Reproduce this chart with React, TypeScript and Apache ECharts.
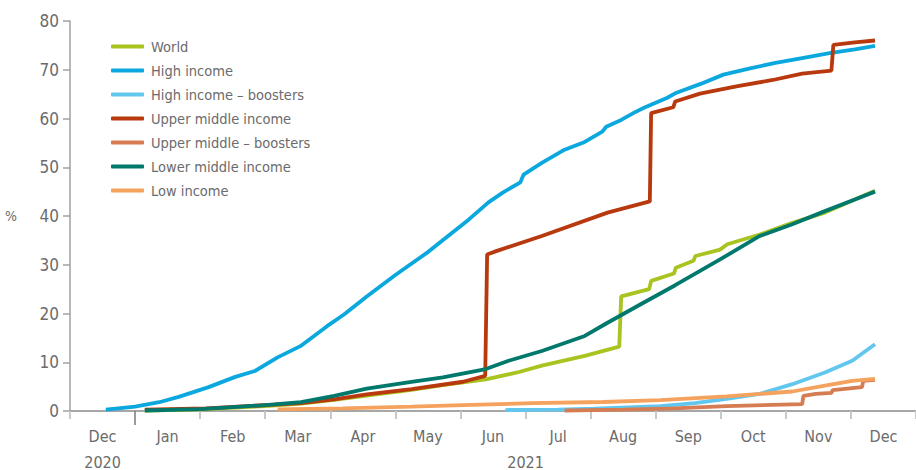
import React, { useEffect, useRef } from "react";
import * as echarts from "echarts";

// x = months since 1 Dec 2020 (each month drawn equally wide), y = percent
const monthLabels = ["Dec", "Jan", "Feb", "Mar", "Apr", "May", "Jun", "Jul", "Aug", "Sep", "Oct", "Nov", "Dec"];
const yearLabels = [
  { at: 0.5, text: "2020" },
  { at: 7, text: "2021" },
];
const seriesNames = [
  "World",
  "High income",
  "High income \u2013 boosters",
  "Upper middle income",
  "Upper middle \u2013 boosters",
  "Lower middle income",
  "Low income",
];
const seriesColors = ["#A9C420", "#0AA8DE", "#62C7EE", "#B8390D", "#D67C52", "#00796C", "#F4A25D"];

const world = [
  [1.15, 0.1], [2.0, 0.35], [3.0, 1.0], [3.55, 1.5], [4.06, 2.3], [4.71, 3.4], [5.22, 4.3], [5.73, 5.3],
  [6.39, 6.5], [6.9, 8.0], [7.25, 9.3], [7.91, 11.3], [8.44, 13.2], [8.47, 23.5], [8.9, 25.0], [8.93, 26.7],
  [9.28, 28.2], [9.31, 29.4], [9.58, 30.8], [9.61, 31.8], [9.99, 33.1], [10.1, 34.2], [10.6, 36.2],
  [11.1, 38.6], [11.6, 40.7], [12.06, 43.4], [12.37, 45.2],
];
const highIncome = [
  [0.55, 0.3], [1.0, 0.9], [1.37, 1.8], [1.67, 2.9], [2.13, 4.9], [2.54, 7.0], [2.84, 8.2], [3.19, 11.0],
  [3.54, 13.3], [3.95, 17.4], [4.21, 19.8], [4.56, 23.5], [5.0, 27.9], [5.5, 32.6], [5.8, 35.8], [6.13, 39.3],
  [6.43, 42.8], [6.65, 44.8], [6.92, 46.9], [6.97, 48.5], [7.25, 50.9], [7.6, 53.6], [7.91, 55.2],
  [8.18, 57.3], [8.24, 58.3], [8.47, 59.7], [8.67, 61.2], [8.82, 62.2], [9.17, 64.2], [9.32, 65.3],
  [9.69, 67.1], [10.04, 69.0], [10.45, 70.3], [10.84, 71.4], [11.25, 72.4], [11.67, 73.4], [12.06, 74.2],
  [12.37, 74.9],
];
const highBoosters = [
  [6.69, 0.2], [7.5, 0.3], [8.06, 0.5], [9.07, 1.0], [9.6, 1.6], [10.09, 2.5], [10.6, 3.5], [11.1, 5.5],
  [11.6, 7.9], [12.02, 10.3], [12.37, 13.7],
];
const upperMiddle = [
  [1.15, 0.3], [2.09, 0.55], [3.14, 1.3], [3.55, 1.6], [4.06, 2.4], [4.56, 3.4], [5.25, 4.5], [6.04, 6.0],
  [6.38, 7.2], [6.41, 32.1], [6.55, 32.8], [7.25, 35.9], [8.26, 40.7], [8.91, 43.0], [8.93, 61.1],
  [9.27, 62.3], [9.3, 63.5], [9.68, 65.1], [10.24, 66.6], [10.8, 67.9], [11.25, 69.2], [11.7, 69.8],
  [11.73, 75.1], [12.06, 75.6], [12.37, 76.0],
];
const upperBoosters = [
  [7.6, 0.1], [8.5, 0.3], [9.28, 0.55], [10.09, 1.0], [11.25, 1.4], [11.27, 3.1], [11.46, 3.5],
  [11.7, 3.7], [11.72, 4.3], [12.17, 4.9], [12.19, 6.2], [12.37, 6.4],
];
const lowerMiddle = [
  [1.15, 0.1], [2.0, 0.4], [3.0, 1.2], [3.55, 1.8], [4.06, 3.1], [4.56, 4.6], [5.22, 5.9], [5.73, 6.9],
  [6.39, 8.6], [6.74, 10.3], [7.25, 12.3], [7.91, 15.4], [8.26, 18.1], [8.77, 21.9], [9.3, 25.8],
  [9.99, 31.1], [10.6, 35.9], [11.1, 38.3], [11.6, 41.0], [12.06, 43.4], [12.37, 45.0],
];
const lowIncome = [
  [3.19, 0.35], [4.19, 0.55], [5.25, 0.9], [6.3, 1.3], [7.09, 1.6], [8.19, 1.85], [9.07, 2.25],
  [10.09, 3.0], [10.6, 3.5], [11.1, 4.0], [11.6, 5.2], [12.02, 6.2], [12.37, 6.6],
];
const seriesData = [world, highIncome, highBoosters, upperMiddle, upperBoosters, lowerMiddle, lowIncome];

const FONT = "'DejaVu Sans Condensed', Roboto, sans-serif";
const TEXT = "#6b6b6b";

export default function App() {
  const ref = useRef<HTMLDivElement>(null);
  useEffect(() => {
    if (!ref.current) return;
    const chart = echarts.init(ref.current, null, { renderer: "svg" });
    const monthPos = monthLabels.map((_, i) => i + 0.5);
    const tickPos = monthLabels.map((_, i) => i).concat([13]).filter((v) => v !== 1);
    chart.setOption({
      animation: false,
      textStyle: { fontFamily: FONT },
      grid: { left: 70, right: -9, top: 21, bottom: 58 },
      legend: {
        orient: "vertical",
        left: 111,
        top: 39,
        padding: 0,
        itemWidth: 33,
        itemHeight: 4,
        itemGap: 9,
        icon: "roundRect",
        data: seriesNames,
        textStyle: { fontFamily: FONT, fontSize: 14.5, color: TEXT, lineHeight: 14, padding: [0, 0, 0, 2] },
      },
      xAxis: [
        {
          type: "value",
          min: 0,
          max: 13,
          axisLine: { show: true, lineStyle: { color: "#8a8a8a", width: 1.5 } },
          axisTick: { show: true, customValues: tickPos, length: 8, lineStyle: { color: "#c9c9c9", width: 2 } },
          axisLabel: {
            customValues: monthPos,
            formatter: (v: number) => monthLabels[Math.round(v - 0.5)],
            margin: 17,
            fontSize: 16,
            color: TEXT,
            fontFamily: FONT,
          },
          splitLine: { show: false },
        },
        {
          type: "value",
          min: 0,
          max: 13,
          position: "bottom",
          axisLine: { show: false },
          axisTick: { show: true, customValues: [1], length: 14, lineStyle: { color: "#7a7a7a", width: 1.5 } },
          axisLabel: {
            customValues: yearLabels.map((y) => y.at),
            formatter: (v: number) => {
              const f = yearLabels.find((y) => Math.abs(y.at - v) < 0.01);
              return f ? f.text : "";
            },
            margin: 43,
            fontSize: 16,
            color: TEXT,
            fontFamily: FONT,
          },
          splitLine: { show: false },
        },
      ],
      yAxis: {
        type: "value",
        min: 0,
        max: 80,
        interval: 10,
        name: "%",
        nameLocation: "middle",
        nameRotate: 0,
        nameGap: 53,
        nameTextStyle: { fontSize: 14, color: TEXT, fontFamily: FONT },
        axisLine: { show: true, lineStyle: { color: "#a0a0a0", width: 1.5 } },
        axisTick: { show: true, length: 7, lineStyle: { color: "#a0a0a0", width: 1.5 } },
        axisLabel: { margin: 11, fontSize: 17, color: TEXT, fontFamily: FONT },
        splitLine: { show: false },
      },
      series: seriesNames.map((name, i) => ({
        name,
        type: "line",
        xAxisIndex: 0,
        showSymbol: false,
        symbol: "none",
        data: seriesData[i],
        color: seriesColors[i],
        lineStyle: { width: 3.8, color: seriesColors[i] },
      })),
    });
    return () => chart.dispose();
  }, []);
  return <div ref={ref} style={{ position: "absolute", left: 0, top: 0, width: 916, height: 470 }} />;
}
